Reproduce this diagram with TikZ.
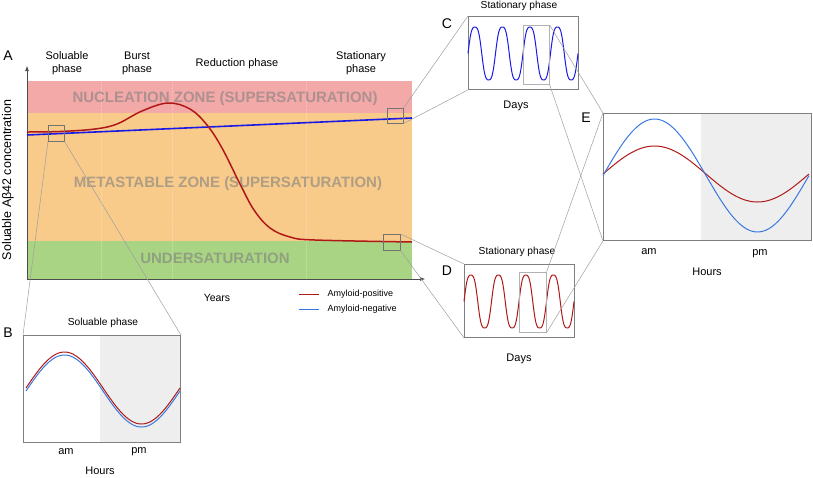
\documentclass[tikz,border=0pt]{standalone}
\usepackage{fontspec}
\setmainfont{Liberation Sans}
\usepackage{tikz}
\usetikzlibrary{positioning,calc,arrows.meta}

\definecolor{nuclpink}{HTML}{F2A9A7}
\definecolor{metaorange}{HTML}{F8CB8B}
\definecolor{undergreen}{HTML}{A9D484}
\definecolor{posred}{HTML}{B01818}
\definecolor{negblue}{HTML}{1A1AE6}
\definecolor{lightblue}{HTML}{3A78E0}
\definecolor{pmgray}{HTML}{EEEEEE}
\definecolor{framegray}{HTML}{7F7F7F}

\begin{document}
\begin{tikzpicture}[x=1pt,y=-1pt,
    panel/.style={draw=framegray,line width=0.9pt,inner sep=0pt,anchor=north west},
    srcbox/.style={draw=black!55,line width=0.5pt,inner sep=0pt,anchor=north west},
    innbox/.style={draw=black!30,line width=0.6pt,inner sep=0pt,anchor=north west},
    zoomline/.style={draw=black!38,line width=0.5pt},
    zonetxt/.style={text=black!50,text opacity=0.6,font=\fontsize{15}{16}\selectfont\bfseries},
    lbl/.style={font=\fontsize{11}{13}\selectfont},
    small/.style={font=\fontsize{10.2}{12}\selectfont},
    letter/.style={font=\fontsize{14}{16}\selectfont}]
    \useasboundingbox (0,0) rectangle (813,477);

    % Main chart: zone bands
    \fill[nuclpink] (27,81) rectangle (412,113);
    \fill[metaorange] (27,113) rectangle (412,241);
    \fill[undergreen] (27,241) rectangle (412,279);
    \foreach \xx in {101,172,306}
        \draw[white,opacity=0.25,densely dotted,line width=0.4pt] (\xx,81) -- (\xx,279);

    \node[zonetxt] (zoneN) at (225,99) {NUCLEATION ZONE (SUPERSATURATION)};
    \node[zonetxt] (zoneM) at (228,184) {METASTABLE ZONE (SUPERSATURATION)};
    \node[zonetxt] (zoneU) at (215,258) {UNDERSATURATION};

    % Axes
    \coordinate (O) at (27,279);
    \coordinate (ytop) at (27,66);
    \coordinate (xend) at (425,279);
    \draw[black!70,line width=0.6pt,-{Latex[length=5pt,width=4pt]}] (O) -- (ytop);
    \draw[black!70,line width=0.6pt,-{Latex[length=5pt,width=4pt]}] (O) -- (xend);

    \node[letter] (labA) at (8,56) {A};
    \node[lbl,align=center] (solPh) at (67,63) {Soluable\\phase};
    \node[lbl,align=center] (burstPh) at (137,63) {Burst\\phase};
    \node[lbl] (redPh) at (237,64) {Reduction phase};
    \node[lbl,align=center] (statPh) at (361,63) {Stationary\\phase};
    \node[rotate=90,font=\fontsize{12.5}{14}\selectfont] (ylab) at (8,180) {Soluable Aβ42 concentration};
    \node[font=\fontsize{10.5}{12}\selectfont] (years) at (217,298) {Years};

    % Curves
    \draw[negblue,line width=1.6pt] (27,135) -- (412,118);
    \draw[posred,line width=1.5pt] plot[smooth,tension=0.6] coordinates {
        (27,132) (60,131.5) (95,129) (117,124) (142,111) (168,103)
        (190,109) (207,125) (222,148) (240,184) (254,210) (270,228)
        (290,237) (315,240) (412,242)};

    % Legend
    \draw[posred,line width=1pt] (299,294) -- (319,294);
    \node[font=\fontsize{9}{10}\selectfont,anchor=west] (legPos) at (324,294) {Amyloid-positive};
    \draw[lightblue,line width=1pt] (299,309) -- (319,309);
    \node[font=\fontsize{9}{10}\selectfont,anchor=west] (legNeg) at (324,309) {Amyloid-negative};

    % Zoom source boxes
    \node[srcbox,minimum width=16pt,minimum height=16pt] (srcB) at (48,125) {};
    \node[srcbox,minimum width=16pt,minimum height=15pt] (srcC) at (387,108) {};
    \node[srcbox,minimum width=17pt,minimum height=16pt] (srcD) at (383,234) {};

    % Panel B
    \fill[pmgray] (100,335) rectangle (180,442);
    \node[panel,minimum width=157pt,minimum height=107pt] (panB) at (23,335) {};
    \draw[posred,line width=1pt] plot[domain=26:180,samples=80] (\x,{388-36*sin((\x-26)/154*360)});
    \draw[lightblue,line width=1pt] plot[domain=26:180,samples=80] (\x,{391-36*sin((\x-26)/154*360)});
    \node[letter] (labB) at (8,333) {B};
    \node[small] (titB) at (103,323) {Soluable phase};
    \node[lbl] (amB) at (66,452) {am};
    \node[lbl] (pmB) at (139,452) {pm};
    \node[lbl] (hrsB) at (100,471) {Hours};

    % Panel C
    \node[panel,minimum width=110pt,minimum height=73pt] (panC) at (468,16) {};
    \draw[negblue,line width=1pt] plot[domain=468:578,samples=200]
        (\x,{53.5-26.5*(sin((\x-468)/27.5*360)+sin(3*(\x-468)/27.5*360)/12)/0.917});
    \node[innbox,minimum width=26pt,minimum height=59pt] (innC) at (523,25) {};
    \node[letter] (labC) at (447,24) {C};
    \node[small] (titC) at (519,6) {Stationary phase};
    \node[lbl] (daysC) at (516,106) {Days};

    % Panel D
    \node[panel,minimum width=110pt,minimum height=73pt] (panD) at (464,264) {};
    \draw[posred,line width=1pt] plot[domain=464:574,samples=200]
        (\x,{301.5-26.5*(sin((\x-464)/27.5*360)+sin(3*(\x-464)/27.5*360)/12)/0.917});
    \node[innbox,minimum width=27pt,minimum height=60pt] (innD) at (519,272) {};
    \node[letter] (labD) at (447,271) {D};
    \node[small] (titD) at (517,252) {Stationary phase};
    \node[lbl] (daysD) at (519,359) {Days};

    % Panel E
    \fill[pmgray] (701,113) rectangle (811,240);
    \node[panel,minimum width=208pt,minimum height=127pt] (panE) at (603,113) {};
    \draw[posred,line width=1pt] plot[domain=603:809,samples=100] (\x,{174-28*sin((\x-603)/206*360)});
    \draw[lightblue,line width=1pt] plot[domain=603:809,samples=100] (\x,{175.5-56.5*sin((\x-603)/206*360)});
    \node[letter] (labE) at (586,118) {E};
    \node[lbl] (amE) at (649,252) {am};
    \node[lbl] (pmE) at (760,254) {pm};
    \node[lbl] (hrsE) at (707,272) {Hours};

    % Zoom connectors
    \draw[zoomline] (srcB.south west) -- (panB.north west);
    \draw[zoomline] (srcB.south east) -- (panB.north east);
    \draw[zoomline] (srcC.north east) -- (panC.north west);
    \draw[zoomline] (srcC.south east) -- (panC.south west);
    \draw[zoomline] (srcD.north east) -- (panD.north west);
    \draw[zoomline] (srcD.south east) -- (panD.south west);
    \draw[zoomline] (innC.north east) -- (panE.north west);
    \draw[zoomline] (innC.south east) -- (panE.south west);
    \draw[zoomline] (innD.north east) -- (panE.north west);
    \draw[zoomline] (innD.south east) -- (panE.south west);
\end{tikzpicture}
\end{document}
